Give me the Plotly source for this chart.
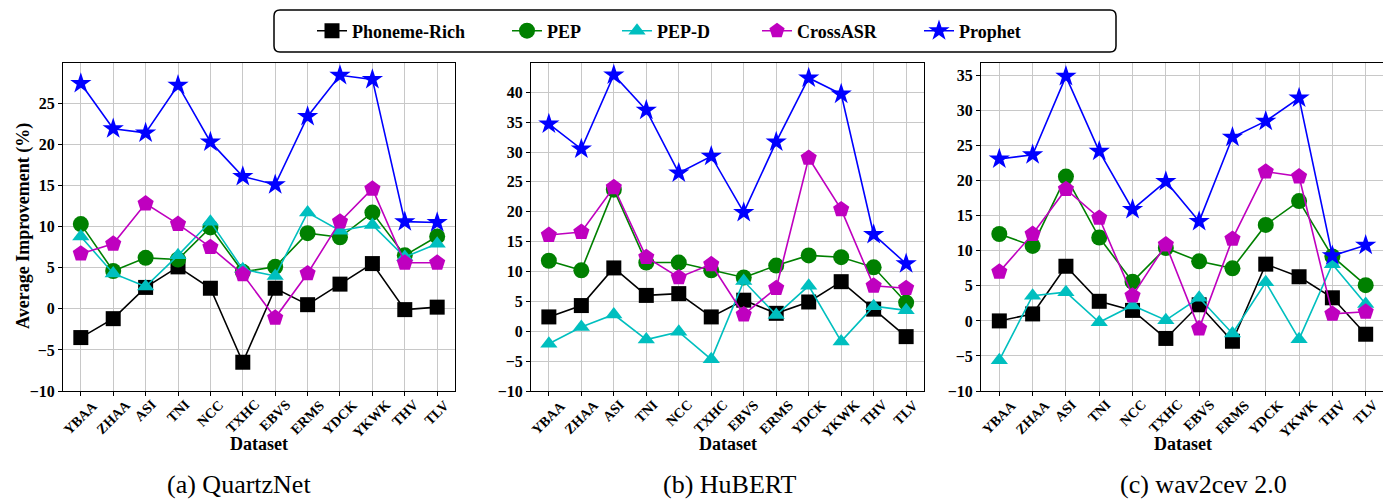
import plotly.graph_objects as go

W, H = 1391, 502

datasets = ["YBAA", "ZHAA", "ASI", "TNI", "NCC", "TXHC", "EBVS", "ERMS", "YDCK", "YKWK", "THV", "TLV"]
methods = ["Phoneme-Rich", "PEP", "PEP-D", "CrossASR", "Prophet"]

# (a) QuartzNet
quartznet_phoneme_rich = [-3.5, -1.2, 2.6, 5.1, 2.5, -6.5, 2.5, 0.5, 3.0, 5.5, -0.1, 0.2]
quartznet_pep = [10.3, 4.6, 6.2, 6.0, 9.9, 4.5, 5.1, 9.2, 8.7, 11.7, 6.5, 8.8]
quartznet_pep_d = [8.8, 4.3, 2.7, 6.5, 10.6, 4.8, 4.0, 11.7, 9.5, 10.2, 6.3, 7.9]
quartznet_crossasr = [6.7, 7.9, 12.8, 10.3, 7.5, 4.2, -1.1, 4.3, 10.6, 14.6, 5.6, 5.6]
quartznet_prophet = [27.4, 21.9, 21.4, 27.2, 20.3, 16.1, 15.1, 23.4, 28.4, 27.9, 10.6, 10.5]

# (b) HuBERT
hubert_phoneme_rich = [2.4, 4.3, 10.6, 6.0, 6.3, 2.4, 5.2, 3.0, 4.9, 8.3, 3.7, -0.9]
hubert_pep = [11.8, 10.2, 23.7, 11.5, 11.5, 10.2, 9.0, 11.0, 12.7, 12.4, 10.7, 4.8]
hubert_pep_d = [-2.1, 0.7, 2.8, -1.4, -0.1, -4.7, 8.4, 2.7, 7.6, -1.7, 4.2, 3.5]
hubert_crossasr = [16.1, 16.6, 24.1, 12.4, 9.0, 11.2, 2.8, 7.2, 29.0, 20.4, 7.6, 7.2]
hubert_prophet = [34.7, 30.5, 42.9, 37.0, 26.5, 29.3, 19.9, 31.7, 42.4, 39.7, 16.2, 11.3]

# (c) wav2cev 2.0
wav2vec_phoneme_rich = [0.0, 1.0, 7.8, 2.8, 1.5, -2.5, 2.3, -2.9, 8.1, 6.3, 3.3, -1.9]
wav2vec_pep = [12.4, 10.7, 20.6, 11.9, 5.6, 10.4, 8.5, 7.5, 13.7, 17.1, 9.2, 5.1]
wav2vec_pep_d = [-5.6, 3.6, 4.1, -0.2, 2.2, 0.1, 3.3, -1.8, 5.5, -2.6, 8.1, 2.4]
wav2vec_crossasr = [7.0, 12.4, 18.8, 14.7, 3.6, 10.9, -1.1, 11.7, 21.3, 20.6, 1.0, 1.3]
wav2vec_prophet = [23.1, 23.7, 34.9, 24.2, 15.9, 19.9, 14.2, 26.2, 28.5, 31.8, 9.3, 10.8]

panel_titles = ["(a) QuartzNet", "(b) HuBERT", "(c) wav2cev 2.0"]
y_tops = [29.9, 44.9, 36.8]

panels = [
    [quartznet_phoneme_rich, quartznet_pep, quartznet_pep_d, quartznet_crossasr, quartznet_prophet],
    [hubert_phoneme_rich, hubert_pep, hubert_pep_d, hubert_crossasr, hubert_prophet],
    [wav2vec_phoneme_rich, wav2vec_pep, wav2vec_pep_d, wav2vec_crossasr, wav2vec_prophet],
]

colors = ["#000000", "#008000", "#00BFBF", "#BF00BF", "#0000FF"]
symbols = ["square", "circle", "triangle-up", "pentagon", "star"]
sizes = [15, 16, 15, 17, 16]

# layout geometry (pixels)
px_x = [(55, 447), (523, 916), (973, 1376)]
px_y = (55, 383)

FONT = "Liberation Serif, Times New Roman, serif"

fig = go.Figure()

for p, series in enumerate(panels):
    ax = "" if p == 0 else str(p + 1)
    for m, vals in enumerate(series):
        fig.add_trace(go.Scatter(
            x=datasets, y=vals, name=methods[m],
            mode="lines+markers",
            line=dict(color=colors[m], width=1.6),
            marker=dict(symbol=symbols[m], size=sizes[m], color=colors[m], line=dict(width=0)),
            xaxis="x" + ax, yaxis="y" + ax,
            showlegend=(p == 0),
            legend="legend" if m == 0 else "legend%d" % (m + 1),
        ))

layout = dict(
    width=W, height=H,
    margin=dict(l=0, r=0, t=0, b=0),
    paper_bgcolor="white", plot_bgcolor="white",
    font=dict(family=FONT, color="black"),
    annotations=[], shapes=[],
)

for p in range(3):
    ax = "" if p == 0 else str(p + 1)
    x0, x1 = px_x[p]
    layout["xaxis" + ax] = dict(
        domain=[x0 / W, x1 / W], anchor="y" + ax,
        type="category", range=[-0.55, 11.55],
        showticklabels=False,
        ticks="outside", ticklen=4, tickcolor="black",
        showgrid=True, gridcolor="#c8c8c8", gridwidth=1,
        showline=True, linecolor="black", linewidth=1, mirror=True,
        automargin=False, zeroline=False,
    )
    layout["yaxis" + ax] = dict(
        domain=[1 - px_y[1] / H, 1 - px_y[0] / H], anchor="x" + ax,
        range=[-10, y_tops[p]], dtick=5, tick0=0,
        tickfont=dict(size=16, family=FONT, weight="bold"),
        ticks="outside", ticklen=4, tickcolor="black",
        showgrid=True, gridcolor="#c8c8c8", gridwidth=1,
        showline=True, linecolor="black", linewidth=1, mirror=True,
        automargin=False, zeroline=False,
    )
    # rotated category labels, centred under each tick (matplotlib-style)
    for name in datasets:
        layout["annotations"].append(dict(
            text=name, x=name, xref="x" + ax, y=1 - 388 / H, yref="paper",
            showarrow=False, textangle=-45, xanchor="center", yanchor="top",
            font=dict(size=14, family=FONT, weight="bold"), borderpad=0,
        ))
    layout["annotations"].append(dict(
        text="Dataset", x=(x0 + x1) / 2 / W, y=1 - 436 / H, xref="paper", yref="paper",
        showarrow=False, font=dict(size=18, family=FONT, weight="bold"),
        xanchor="center", yanchor="middle",
    ))

caption_x = [231, 722, 1195]
for p in range(3):
    layout["annotations"].append(dict(
        text=panel_titles[p], x=caption_x[p] / W, y=1 - 476 / H, xref="paper", yref="paper",
        showarrow=False, font=dict(size=26, family=FONT),
        xanchor="center", yanchor="middle",
    ))

layout["annotations"].append(dict(
    text="Average Improvement (%)", x=15 / W, y=1 - 218 / H, xref="paper", yref="paper",
    showarrow=False, textangle=-90, font=dict(size=18, family=FONT, weight="bold"),
    xanchor="center", yanchor="middle",
))

# legends: one per method, placed along a single framed box
marker_centers = [325, 520, 630, 770, 932]
for m in range(5):
    key = "legend" if m == 0 else "legend%d" % (m + 1)
    layout[key] = dict(
        x=(marker_centers[m] - 21) / W, xanchor="left",
        y=1 - 23 / H, yanchor="middle",
        orientation="h", bgcolor="rgba(0,0,0,0)", borderwidth=0,
        font=dict(size=18, family=FONT, weight="bold"),
    )

# rounded legend frame
bx0, by0, bx1, by1, r = 266, 2, 1108, 44, 6
def P(x, y):
    return "%.5f,%.5f" % (x / W, 1 - y / H)
path = ("M " + P(bx0 + r, by0) + " L " + P(bx1 - r, by0) +
        " Q " + P(bx1, by0) + " " + P(bx1, by0 + r) +
        " L " + P(bx1, by1 - r) + " Q " + P(bx1, by1) + " " + P(bx1 - r, by1) +
        " L " + P(bx0 + r, by1) + " Q " + P(bx0, by1) + " " + P(bx0, by1 - r) +
        " L " + P(bx0, by0 + r) + " Q " + P(bx0, by0) + " " + P(bx0 + r, by0) + " Z")
layout["shapes"].append(dict(type="path", path=path, xref="paper", yref="paper",
                             line=dict(color="black", width=1.5), fillcolor="rgba(0,0,0,0)"))

fig.update_layout(**layout)
fig.write_html("out.html")
